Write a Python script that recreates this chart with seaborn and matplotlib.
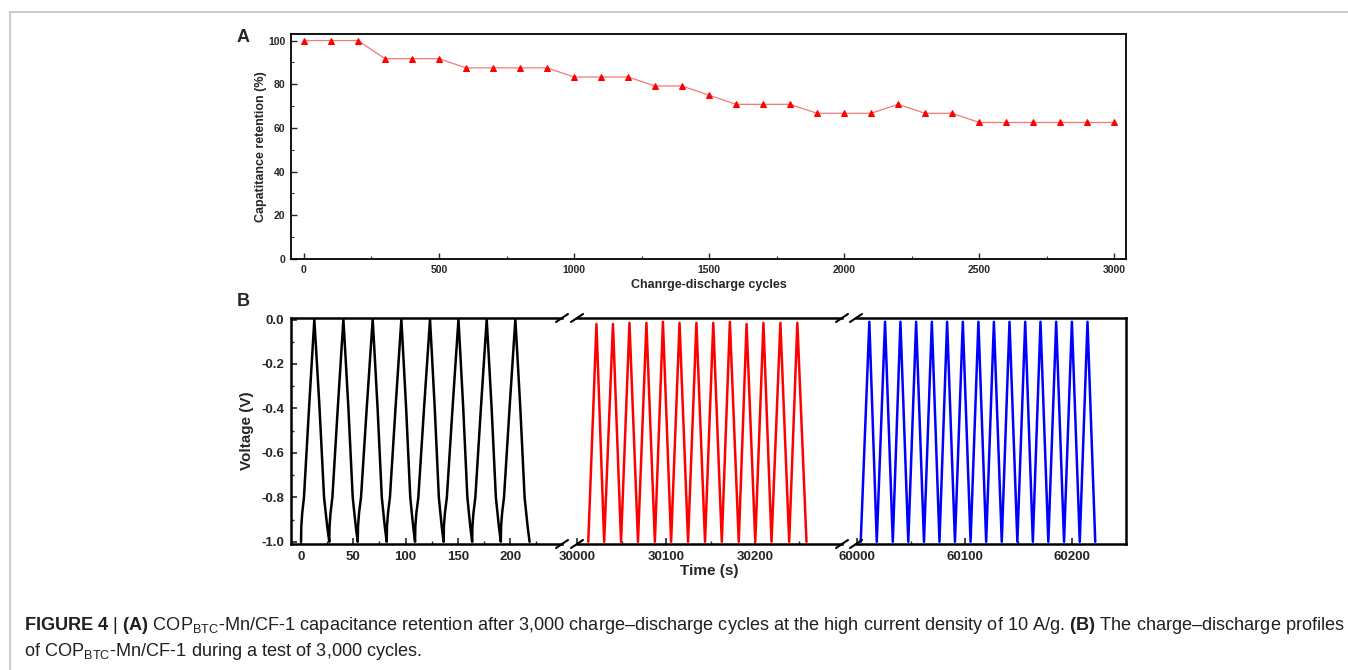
import numpy as np
import pandas as pd
import seaborn as sns
import matplotlib.pyplot as plt
from matplotlib.lines import Line2D
from matplotlib.ticker import MultipleLocator
from matplotlib import font_manager

# ---- data ----
# panel A: capacitance retention every 100 cycles
cycles = list(range(0, 3001, 100))
retention = [100, 100, 100, 91.7, 91.7, 91.7, 87.5, 87.5, 87.5, 87.5,
             83.3, 83.3, 83.3, 79.2, 79.2, 75.0, 70.8, 70.8, 70.8,
             66.7, 66.7, 66.7, 70.8, 66.7, 66.7,
             62.5, 62.5, 62.5, 62.5, 62.5, 62.5]

# panel B, first segment (black): cycle turning points (s)
black_trough_t = [0, 27.0, 54.2, 81.9, 109.0, 136.3, 163.6, 191.0, 218.5]
black_peak_t = [12.7, 40.5, 68.5, 95.9, 123.3, 150.5, 177.5, 204.9]
# shape of one black charge / discharge leg (fraction of leg time, voltage)
charge_frac = [0.0, 0.02, 0.09, 0.22, 0.60, 1.0]
charge_v = [-1.0, -0.93, -0.87, -0.80, -0.40, 0.0]
dis_frac = [0.0, 0.09, 0.35, 0.65, 0.86, 1.0]
dis_v = [0.0, -0.10, -0.40, -0.80, -0.93, -1.0]

# second segment (red): turning points after 30000 s
red_t = [30012.2, 30021.4, 30030.1, 30040.0, 30049.1, 30058.6, 30068.2, 30077.7,
         30087.2, 30096.3, 30105.5, 30115.0, 30124.6, 30134.0, 30143.7, 30153.0,
         30162.6, 30171.7, 30181.7, 30190.5, 30200.3, 30209.5, 30218.6, 30228.6,
         30238.5, 30247.7, 30258.0]
red_v = [-1.0, -0.02, -1.0, -0.02, -1.0, -0.015, -1.0, -0.015, -1.0, -0.01,
         -1.0, -0.015, -1.0, -0.015, -1.0, -0.015, -1.0, -0.01, -1.0, -0.02,
         -1.0, -0.015, -1.0, -0.015, -1.0, -0.015, -1.0]

# third segment (blue): turning points after 60000 s
blue_t = [60003.4, 60011.4, 60018.3, 60026.0, 60033.2, 60040.3, 60047.6, 60054.9,
          60062.2, 60069.5, 60076.6, 60083.7, 60091.0, 60098.3, 60105.5, 60112.8,
          60120.0, 60127.2, 60134.5, 60141.7, 60149.0, 60156.3, 60163.4, 60170.5,
          60177.8, 60185.1, 60192.4, 60199.7, 60207.0, 60214.2, 60221.4]
blue_v = [-1.0, -0.01, -1.0, -0.01, -1.0, -0.01, -1.0, -0.01, -1.0, -0.01,
          -1.0, -0.01, -1.0, -0.01, -1.0, -0.01, -1.0, -0.01, -1.0, -0.01,
          -1.0, -0.01, -1.0, -0.01, -1.0, -0.01, -1.0, -0.01, -1.0, -0.01, -1.0]

caption_1 = (r"$\mathbf{FIGURE\ 4}$ | $\mathbf{(A)}$ COP$_{\mathrm{BTC}}$-Mn/CF-1 capacitance "
             r"retention after 3,000 charge–discharge cycles at the high current density "
             r"of 10 A/g. $\mathbf{(B)}$ The charge–discharge profiles")
caption_2 = r"of COP$_{\mathrm{BTC}}$-Mn/CF-1 during a test of 3,000 cycles."

# black curve: put the leg shape between consecutive turning points
bt, bv = [], []
for i, pk in enumerate(black_peak_t):
    t0, t1 = black_trough_t[i], black_trough_t[i + 1]
    for f, v in zip(charge_frac, charge_v):
        bt.append(t0 + f * (pk - t0)); bv.append(v)
    for f, v in zip(dis_frac[1:], dis_v[1:]):
        bt.append(pk + f * (t1 - pk)); bv.append(v)
df_black = pd.DataFrame({'t': bt, 'v': bv})
df_red = pd.DataFrame({'t': red_t, 'v': red_v})
df_blue = pd.DataFrame({'t': blue_t, 'v': blue_v})
df_ret = pd.DataFrame({'cycle': cycles, 'ret': retention})

# ---- style ----
sns.set_theme(style='ticks')
plt.rcParams['font.family'] = ['Liberation Sans', 'DejaVu Sans']
plt.rcParams['font.weight'] = 'bold'
plt.rcParams['axes.labelweight'] = 'bold'
plt.rcParams['axes.unicode_minus'] = False

names = {f.name for f in font_manager.fontManager.ttflist}
cap_font = 'Liberation Sans Narrow' if 'Liberation Sans Narrow' in names else 'Liberation Sans'
plt.rcParams['mathtext.fontset'] = 'custom'
plt.rcParams['mathtext.rm'] = cap_font + ':normal'
plt.rcParams['mathtext.bf'] = cap_font + ':bold'
plt.rcParams['mathtext.it'] = cap_font + ':italic'

W, H = 1348, 670
def fx(px): return px / W
def fy(py): return 1 - py / H
def box(l, t, r, b): return [fx(l), fy(b), (r - l) / W, (b - t) / H]

fig = plt.figure(figsize=(W / 100, H / 100), dpi=100)
fig.patch.set_facecolor('white')

# light grey frame (cropped at right and bottom)
fig.add_artist(Line2D([fx(10), 1.0], [fy(11.5), fy(11.5)], transform=fig.transFigure,
                      color='#c4c4c4', lw=1.2))
fig.add_artist(Line2D([fx(10), fx(10)], [fy(11.5), 0.0], transform=fig.transFigure,
                      color='#c4c4c4', lw=1.2))

# ---- panel A ----
axA = fig.add_axes(box(291, 34, 1126, 259))
sns.lineplot(data=df_ret, x='cycle', y='ret', ax=axA, color='#f07a7a', lw=0.9,
             marker='^', markersize=5, markerfacecolor='red', markeredgecolor='red')
axA.set_xlim(-48, 3044)
axA.set_ylim(0, 103)
axA.xaxis.set_major_locator(MultipleLocator(500))
axA.xaxis.set_minor_locator(MultipleLocator(250))
axA.yaxis.set_major_locator(MultipleLocator(20))
axA.yaxis.set_minor_locator(MultipleLocator(10))
axA.tick_params(which='major', direction='in', length=4, width=1, labelsize=7.5, pad=4)
axA.tick_params(which='minor', direction='in', length=2, width=0.8)
for s in axA.spines.values():
    s.set_linewidth(1.3)
    s.set_color('black')
axA.set_xlabel('Chanrge-discharge cycles', fontsize=9, labelpad=3)
axA.set_ylabel('Capatitance retention (%)', fontsize=9, labelpad=1)
fig.text(fx(243), fy(38), 'A', fontsize=13, weight='bold', ha='center', va='center')

# ---- panel B (broken time axis) ----
top_b, bot_b = 318, 544
segs = [(291, 562, (-9.6, 249.5), df_black, 'black', 50, 25),
        (577, 842, (29999.5, 30298.0), df_red, 'red', 100, 50),
        (856, 1126, (59999.0, 60250.0), df_blue, 'blue', 100, 50)]
axes_b = []
for i, (l, r, xl, d, col, maj, mnr) in enumerate(segs):
    ax = fig.add_axes(box(l, top_b, r, bot_b))
    sns.lineplot(data=d, x='t', y='v', ax=ax, sort=False, estimator=None,
                 color=col, lw=1.8)
    ax.set_xlim(*xl)
    ax.set_ylim(-1.01, 0.007)
    ax.xaxis.set_major_locator(MultipleLocator(maj))
    ax.xaxis.set_minor_locator(MultipleLocator(mnr))
    ax.tick_params(which='major', direction='in', length=4, width=1.2, labelsize=9.5, pad=5)
    ax.tick_params(which='minor', direction='in', length=2.5, width=1)
    for s in ax.spines.values():
        s.set_linewidth(1.8)
        s.set_color('black')
    ax.set_xlabel('')
    ax.set_ylabel('')
    if i > 0:
        ax.spines['left'].set_visible(False)
        ax.tick_params(axis='y', which='both', left=False, labelleft=False)
    if i < 2:
        ax.spines['right'].set_visible(False)
    axes_b.append(ax)

ax1 = axes_b[0]
ax1.yaxis.set_major_locator(MultipleLocator(0.2))
ax1.yaxis.set_minor_locator(MultipleLocator(0.1))
ax1.yaxis.set_major_formatter(plt.FormatStrFormatter('%.1f'))
ax1.set_ylabel('Voltage (V)', fontsize=11, labelpad=5)
axes_b[1].set_xlabel('Time (s)', fontsize=11, labelpad=1)
fig.text(fx(243), fy(301), 'B', fontsize=13, weight='bold', ha='center', va='center')

# break marks on top and bottom spines
for (l, r, *_), (l2, *_rest) in zip(segs[:-1], segs[1:]):
    for xc in (r, l2):
        for yc in (top_b, bot_b):
            fig.add_artist(Line2D([fx(xc - 6), fx(xc + 6)], [fy(yc + 4), fy(yc - 4)],
                                  transform=fig.transFigure, color='black', lw=1.5))

# ---- caption ----
cap_kw = dict(family=cap_font, weight='normal', color='#231f20', ha='left', va='center')
t1 = fig.text(fx(24), fy(626), caption_1, fontsize=12, **cap_kw)
t2 = fig.text(fx(24), fy(651), caption_2, fontsize=12, **cap_kw)
fig.canvas.draw()
w = t1.get_window_extent(fig.canvas.get_renderer()).width
size = 12 * 1318 / w
t1.set_fontsize(size)
t2.set_fontsize(size)

fig.savefig('out.png', dpi=100, facecolor='white')
